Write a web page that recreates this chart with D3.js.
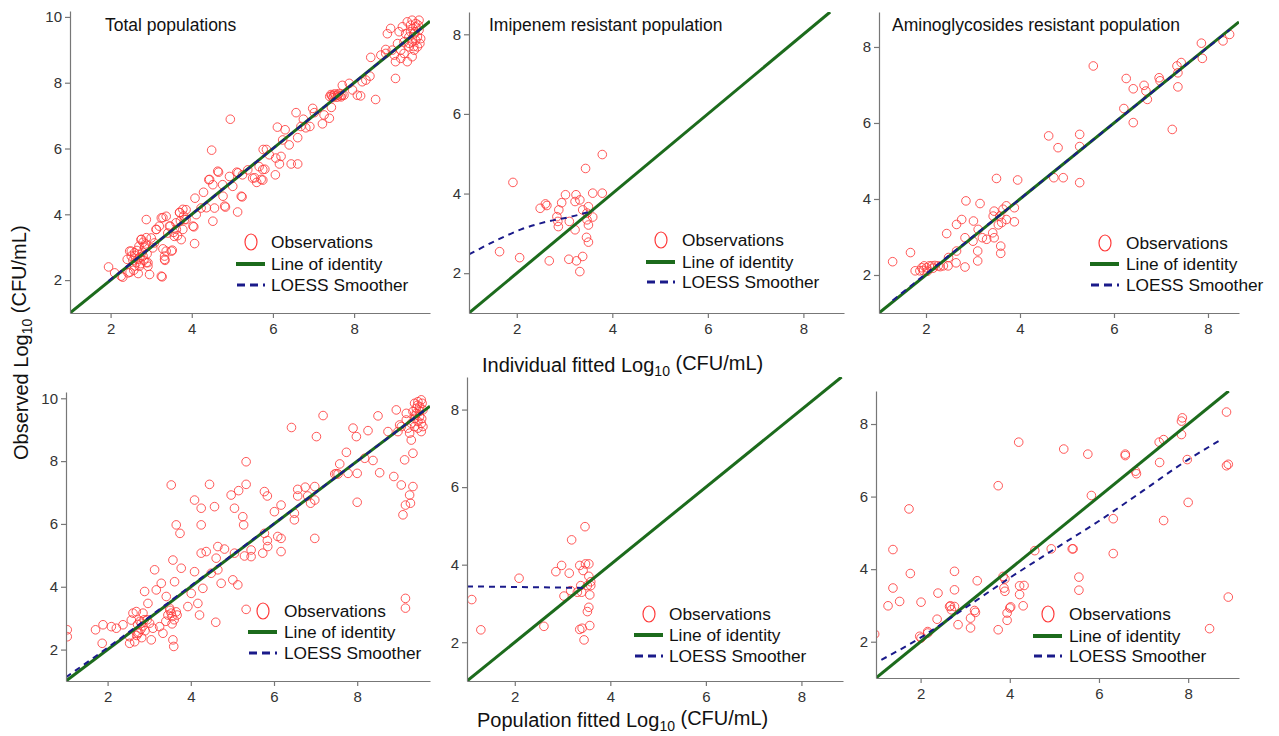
<!DOCTYPE html>
<html><head><meta charset="utf-8">
<script src="https://cdn.jsdelivr.net/npm/d3@7"></script>
<style>
html,body{margin:0;padding:0;background:#fff;}
svg{display:block;font-family:"Liberation Sans",Arial,sans-serif;}
</style></head>
<body>
<svg id="chart" width="1279" height="736"></svg>
<script>
// ---------------- DATA ----------------
const panelTitles = ["Total populations", "Imipenem resistant population", "Aminoglycosides resistant population", "", "", ""];
const legendLabels = ["Observations", "Line of identity", "LOESS Smoother"];
const xTickValues = [2, 4, 6, 8];
const yTicksTotal = [2, 4, 6, 8, 10];
const yTicksResistant = [2, 4, 6, 8];
const rowTitleTop = "Individual fitted Log";
const rowTitleBottom = "Population fitted Log";
const yTitle = "Observed Log";

// Panel 1: total populations, individual fitted (x) vs observed (y)
const p1Obs = [[1.95,2.40],[2.10,2.22],[2.30,2.09],[2.48,2.24],[2.51,2.73],[2.47,2.88],[2.41,2.63],[2.59,2.83],[2.63,2.53],[2.70,3.03],[2.71,2.42],[2.75,3.23],[2.80,2.73],[2.84,2.98],[2.88,3.84],[2.88,2.53],[2.92,2.42],[2.96,2.17],[3.00,3.28],[3.08,3.13],[3.12,3.54],[3.20,3.64],[3.25,3.89],[3.29,2.95],[3.33,2.73],[3.34,2.60],[3.27,2.10],[3.37,3.94],[3.41,3.43],[3.47,3.64],[3.52,2.91],[3.57,3.33],[3.61,3.74],[3.70,4.06],[3.74,3.23],[3.78,3.54],[3.82,3.84],[3.86,4.14],[4.05,3.62],[4.07,3.11],[4.11,3.99],[4.08,4.49],[4.23,4.19],[4.29,4.67],[4.49,5.95],[4.42,5.05],[4.52,3.79],[4.56,4.19],[4.52,4.90],[4.66,5.28],[4.76,4.90],[4.83,4.22],[4.93,5.15],[4.95,6.89],[5.01,4.85],[5.13,4.07],[5.11,5.28],[5.24,4.53],[5.25,5.20],[5.38,5.35],[5.50,5.10],[5.60,4.97],[5.66,5.45],[5.75,5.04],[5.76,5.97],[5.80,5.37],[5.91,5.81],[6.06,5.20],[6.07,5.71],[6.16,5.53],[6.20,5.76],[6.11,6.65],[6.24,6.26],[6.30,6.57],[6.40,6.11],[6.45,5.53],[6.61,5.53],[6.57,7.09],[6.61,6.33],[6.69,6.67],[6.75,6.89],[6.81,6.63],[6.91,6.67],[6.98,7.22],[7.02,7.09],[7.22,6.75],[7.26,7.02],[7.39,6.92],[7.44,7.25],
[7.40,7.58],[7.45,7.60],[7.50,7.62],[7.55,7.60],[7.60,7.63],[7.65,7.60],[7.70,7.62],[7.48,7.55],[7.58,7.56],[7.68,7.57],[7.52,7.66],[7.62,7.67],[7.75,7.62],[7.43,7.64],
[7.71,7.92],[7.88,7.98],[7.96,7.78],[8.08,7.62],[8.16,7.60],[8.20,8.03],[8.29,8.08],[8.39,8.20],[8.41,8.77],[8.53,7.49],[8.66,8.84],[8.78,9.01],[8.78,8.89],[8.82,9.49],[8.94,8.99],[9.02,8.13],[9.02,8.64],
[8.90,9.65],[9.11,9.55],[9.19,9.70],[9.31,9.85],[9.43,9.90],[9.52,9.80],[9.60,9.90],[9.48,9.49],[9.43,9.24],[9.35,9.09],[9.23,8.89],[9.15,8.74],[9.31,8.64],[9.52,9.29],[9.60,9.60],[9.56,9.09],[9.48,8.99],[9.35,9.39],[9.23,9.24],[9.07,9.19],[9.64,9.34],[9.52,9.70],[9.39,9.75],[9.27,9.49],[9.15,8.99],[8.99,8.84],[9.43,8.79],[9.56,9.39],[9.62,9.19],[9.39,9.55],[9.50,9.55],[9.45,9.65],[9.58,9.75],[9.35,9.20],[9.47,9.10],
[2.26,2.12],[2.43,2.22],[2.51,2.88],[2.59,2.43],[2.67,2.63],[2.76,3.24],[2.84,3.03],[2.88,3.29],[2.92,2.53],[3.04,2.98],[3.13,3.54],[3.25,2.12],[3.29,3.90],[3.33,2.63],[3.37,2.88],[3.45,3.64],[3.50,2.88],[3.62,3.54],[3.70,4.05],[3.78,4.15],[3.86,3.84],[4.03,3.64],[4.36,4.20],[4.44,5.06],[4.64,5.31],[4.77,4.55],[4.81,4.25],[5.14,5.26],[5.22,4.55],[5.55,5.11],[5.71,5.06],[5.84,5.97],[5.75,5.36],
[2.55,2.60],[2.60,2.75],[2.65,2.90],[2.72,2.70],[2.78,2.85],[2.82,2.60],[2.86,3.10],[2.90,2.80],[2.57,2.30],[2.68,2.20],[2.74,2.50],[2.80,3.15],[3.55,3.45],[3.65,3.35],[3.72,3.80],[3.80,3.95]];
const p1Loess = [[1.95,1.97],[4,4.0],[6,6.0],[8,8.0],[9.65,9.65]];

// Panel 2: imipenem resistant, individual fitted
const p2Obs = [[1.92,4.28],[1.64,2.54],[2.06,2.39],[2.49,3.63],[2.60,3.74],[2.63,3.70],[2.68,2.31],[2.88,3.59],[2.86,3.30],[2.87,3.17],[2.94,3.77],[3.02,3.97],[3.10,3.30],[3.09,2.35],[3.22,3.09],[3.22,3.80],[3.24,3.97],[3.25,2.31],[3.32,3.84],[3.32,2.04],[3.38,2.42],[3.38,3.59],[3.44,4.63],[3.46,2.90],[3.47,3.51],[3.50,3.67],[3.50,3.21],[3.50,2.78],[3.47,3.34],[3.59,4.01],[3.59,3.41],[3.79,4.98],[3.79,4.01],[2.84,3.42]];
const p2Loess = [[1.0,2.47],[1.6,2.84],[2.09,3.10],[2.65,3.30],[3.14,3.42],[3.60,3.57]];

// Panel 3: aminoglycosides resistant, individual fitted
const p3Obs = [[1.29,2.35],[1.67,2.59],[1.77,2.11],[1.87,2.11],[1.91,2.19],[1.96,2.24],[2.01,2.19],[2.07,2.24],[2.12,2.24],[2.19,2.25],[2.26,2.24],[2.37,2.24],[2.47,2.24],[2.44,3.09],[1.94,2.12],[2.48,2.46],[2.65,2.63],[2.65,3.33],[2.64,2.32],[2.76,3.46],[2.83,2.98],[2.83,2.21],[2.85,3.95],[3.01,3.42],[3.00,2.89],[3.11,3.20],[3.10,2.63],[3.10,2.37],[3.15,3.88],[3.20,2.98],[3.29,2.94],[3.42,3.11],[3.45,2.98],[3.45,3.68],[3.43,3.55],[3.50,4.54],[3.54,3.32],[3.57,3.55],[3.61,3.38],[3.59,2.76],[3.59,2.57],[3.64,3.73],[3.71,3.82],[3.71,3.46],[3.88,3.77],[3.88,3.40],[3.95,4.50],[4.61,5.66],[4.72,4.56],[4.81,5.35],[4.92,4.56],[5.27,5.70],[5.27,5.38],[5.27,4.43],[5.56,7.50],[6.21,6.38],[6.26,7.17],[6.41,6.90],[6.41,6.01],[6.64,6.99],[6.68,6.84],[6.71,6.62],[6.96,7.19],[6.98,7.11],[7.24,5.83],[7.34,7.50],[7.36,7.32],[7.36,6.95],[7.43,7.59],[7.86,8.10],[7.88,7.70],[8.32,8.16],[8.46,8.33],[2.03,2.10],[2.15,2.18],[2.30,2.22]];
const p3Loess = [[1.29,1.33],[2,2.03],[4,4.0],[6,6.0],[8.46,8.45]];

// Panel 4: total populations, population fitted
const p4Obs = [[1.03,2.63],[1.03,2.41],[1.71,2.63],[1.89,2.79],[1.87,2.20],[2.09,2.73],[2.21,2.68],[2.37,2.79],[2.53,2.20],[2.53,2.41],[2.57,2.94],[2.61,3.16],[2.69,3.21],[2.73,2.52],[2.81,2.84],[2.85,3.16],[2.89,3.85],[2.97,3.47],[3.01,2.84],[3.05,2.31],[3.09,2.68],[3.13,4.54],[3.17,3.90],[3.25,2.73],[3.29,4.11],[3.33,2.52],[3.41,3.69],[3.49,3.32],[3.53,7.24],[3.53,3.16],[3.55,2.82],[3.57,2.31],[3.57,4.85],[3.61,4.16],[3.59,2.10],[3.65,5.97],[3.67,3.10],[3.74,5.70],[3.77,4.59],[3.93,3.37],[4.01,3.79],[4.09,6.76],[4.09,4.48],[4.17,3.47],[4.21,3.10],[4.25,6.50],[4.25,5.97],[4.25,5.07],[4.29,3.95],[4.37,5.12],[4.45,7.26],[4.49,4.43],[4.57,6.55],[4.60,2.87],[4.61,4.91],[4.65,4.54],[4.65,5.28],[4.73,4.11],[4.81,5.20],[4.97,6.92],[5.01,4.22],[5.05,5.07],[5.13,4.06],[5.15,7.06],[5.05,6.50],[5.25,6.23],[5.27,5.97],[5.29,4.98],[5.33,7.26],[5.33,7.98],[5.33,3.28],[5.45,5.17],[5.45,4.96],[5.73,5.07],[5.77,7.03],[5.84,6.89],[5.84,5.47],[5.77,5.70],[5.85,5.28],[6.01,6.39],[6.09,5.60],[6.17,6.60],[6.17,5.12],[6.17,5.54],[6.49,6.34],[6.49,6.13],[6.42,9.07],[6.57,6.89],[6.57,7.10],[6.75,7.17],[6.81,6.89],[6.88,6.66],[6.98,7.19],[6.98,6.76],[7.02,8.78],[6.98,5.54],[7.18,9.45],[7.46,7.59],[7.54,7.59],[7.50,7.60],[7.58,7.91],[7.74,8.28],[7.78,7.61],[7.90,9.05],[7.98,8.78],[8.00,7.61],[8.00,6.69],[8.18,8.09],[8.26,8.97],[8.38,8.02],[8.50,9.44],[8.54,7.63],[8.74,8.94],[8.88,7.51],[8.94,9.63],[8.98,8.94],[9.06,7.24],[9.10,6.29],[9.14,8.04],[9.16,6.60],[9.16,3.63],[9.16,3.32],[9.18,9.31],[9.26,6.92],[9.28,6.66],[9.34,8.25],[9.34,7.19],[9.30,8.67],[9.26,8.89],
[9.38,9.84],[9.46,9.89],[9.54,9.95],[9.50,9.73],[9.42,9.52],[9.50,9.42],[9.54,9.20],[9.46,9.26],[9.38,9.10],[9.58,9.63],[9.42,9.68],[9.30,9.20],[9.22,9.05],[9.06,9.10],[9.02,9.15],[9.54,8.94],[9.56,9.84],[9.34,9.58],[9.46,9.05],[9.38,9.36],[9.18,9.52],[9.50,9.58],[9.55,9.35],[9.45,9.78],[9.40,9.45],[9.58,9.10],
[2.75,2.55],[2.80,2.65],[2.85,2.75],[2.78,2.90],[2.70,2.45],[2.82,2.38],[2.90,2.60],[2.65,2.25],[2.95,2.95],[2.72,2.80],[2.88,2.95],[3.45,3.10],[3.55,3.05],[3.50,3.25],[3.60,2.95],[3.65,3.20],[3.40,2.90]];
const p4Loess = [[1.0,1.12],[2,2.06],[4,4.03],[6,6.01],[8,8.0],[9.6,9.6]];

// Panel 5: imipenem resistant, population fitted
const p5Obs = [[1.10,3.10],[1.29,2.32],[2.09,3.65],[2.61,2.41],[2.86,3.82],[2.98,3.98],[3.03,3.19],[3.14,3.78],[3.17,3.33],[3.19,4.64],[3.36,3.98],[3.36,2.33],[3.38,3.46],[3.40,3.29],[3.41,2.36],[3.43,3.85],[3.45,2.06],[3.47,4.98],[3.48,4.02],[3.52,3.46],[3.52,2.79],[3.55,4.02],[3.55,3.70],[3.55,2.90],[3.57,2.43],[3.57,3.22],[3.59,3.46],[3.59,3.56],[3.31,3.29]];
const p5Loess = [[1.0,3.44],[2.33,3.42],[3.52,3.40]];

// Panel 6: aminoglycosides resistant, population fitted
const p6Obs = [[0.97,2.21],[1.27,2.99],[1.38,4.54],[1.38,3.48],[1.53,3.11],[1.74,5.66],[1.77,3.88],[1.98,2.15],[2.01,3.09],[2.01,2.10],[2.16,2.24],[2.16,2.28],[2.37,2.62],[2.39,3.34],[2.65,2.97],[2.69,2.88],[2.67,2.99],[2.76,3.94],[2.76,3.43],[2.76,2.97],[2.84,2.47],[3.12,2.65],[3.12,2.38],[3.21,2.86],[3.23,2.81],[3.27,3.68],[3.74,6.30],[3.74,2.33],[3.85,3.80],[3.87,3.48],[3.89,3.39],[3.89,3.73],[3.94,2.79],[3.94,2.59],[4.02,2.96],[4.00,2.93],[4.20,7.50],[4.22,3.54],[4.22,3.30],[4.30,2.99],[4.32,3.55],[4.56,4.51],[4.93,4.56],[5.21,7.31],[5.40,4.56],[5.42,4.56],[5.55,3.78],[5.55,3.42],[5.75,7.17],[5.83,6.03],[6.32,5.39],[6.32,4.43],[6.59,7.17],[6.59,7.13],[6.82,6.70],[6.84,6.63],[7.35,7.50],[7.36,6.94],[7.45,7.57],[7.45,5.34],[7.85,8.08],[7.87,8.17],[7.85,7.71],[7.98,7.02],[8.00,5.84],[8.48,2.36],[8.86,8.33],[8.86,6.85],[8.90,6.89],[8.90,3.23]];
const p6Loess = [[1.12,1.50],[2.01,2.12],[3.0,2.93],[4.00,3.76],[5.0,4.55],[5.99,5.32],[7.0,6.17],[8.00,7.02],[8.77,7.59]];

// ---------------- LAYOUT ----------------
const panels = [
  {obs:p1Obs, loess:p1Loess, title:panelTitles[0], l:70,  r:430,  t:11,  b:313, xmax:9.87, ymax:10.18, yt:yTicksTotal,     tx:105, leg:{cx:251, tx:271, y:[242,264,285]}},
  {obs:p2Obs, loess:p2Loess, title:panelTitles[1], l:469, r:844,  t:12,  b:313, xmax:8.85, ymax:8.56,  yt:yTicksResistant, tx:489, leg:{cx:661, tx:682, y:[240,262,282]}},
  {obs:p3Obs, loess:p3Loess, title:panelTitles[2], l:879, r:1239, t:12,  b:313, xmax:8.66, ymax:8.92,  yt:yTicksResistant, tx:892, leg:{cx:1105, tx:1126, y:[243,264,285]}},
  {obs:p4Obs, loess:p4Loess, title:panelTitles[3], l:66,  r:430,  t:392, b:681, xmax:9.75, ymax:10.2,  yt:yTicksTotal,     tx:0,   leg:{cx:263, tx:284, y:[611,632,653]}},
  {obs:p5Obs, loess:p5Loess, title:panelTitles[4], l:467, r:843,  t:377, b:681, xmax:8.87, ymax:8.84,  yt:yTicksResistant, tx:0,   leg:{cx:649, tx:669, y:[614,635,656]}},
  {obs:p6Obs, loess:p6Loess, title:panelTitles[5], l:876, r:1239, t:391, b:678, xmax:9.14, ymax:8.91,  yt:yTicksResistant, tx:0,   leg:{cx:1048, tx:1069, y:[614,636,656]}}
];

const RED = "#ff3b3b", GREEN = "#1c6b1c", BLUE = "#1a1a8a";
const svg = d3.select("#chart");
const defs = svg.append("defs");

panels.forEach((p, i) => {
  const x = d3.scaleLinear().domain([1, p.xmax]).range([p.l, p.r]);
  const y = d3.scaleLinear().domain([1, p.ymax]).range([p.b, p.t]);
  const g = svg.append("g");

  defs.append("clipPath").attr("id", "clip" + i)
    .append("rect").attr("x", p.l).attr("y", p.t).attr("width", p.r - p.l).attr("height", p.b - p.t);

  const plot = g.append("g").attr("clip-path", `url(#clip${i})`);

  // observations
  plot.selectAll("circle.obs").data(p.obs).join("circle")
    .attr("class", "obs")
    .attr("cx", d => x(d[0])).attr("cy", d => y(d[1])).attr("r", 4.3)
    .attr("fill", "none").attr("stroke", RED).attr("stroke-width", 1).attr("stroke-opacity", 0.85);

  // identity line
  const idEnd = Math.min(p.xmax, p.ymax);
  plot.append("path").datum([[1, 1], [idEnd, idEnd]])
    .attr("d", d3.line().x(d => x(d[0])).y(d => y(d[1])))
    .attr("fill", "none").attr("stroke", GREEN).attr("stroke-width", 3);

  // LOESS smoother
  plot.append("path").datum(p.loess)
    .attr("d", d3.line().curve(d3.curveMonotoneX).x(d => x(d[0])).y(d => y(d[1])))
    .attr("fill", "none").attr("stroke", BLUE).attr("stroke-width", 2)
    .attr("stroke-dasharray", "6,5");

  // axes
  const xAxis = g.append("g").attr("transform", `translate(0,${p.b})`)
    .call(d3.axisBottom(x).tickValues(xTickValues).tickSize(5).tickSizeOuter(0).tickFormat(d3.format("d")));
  const yAxis = g.append("g").attr("transform", `translate(${p.l},0)`)
    .call(d3.axisLeft(y).tickValues(p.yt).tickSize(5).tickSizeOuter(0).tickFormat(d3.format("d")));
  [xAxis, yAxis].forEach(a => {
    a.select(".domain").attr("stroke", "#777").attr("stroke-width", 1.2);
    a.selectAll(".tick line").attr("stroke", "#777").attr("stroke-width", 1.2);
    a.selectAll(".tick text").attr("fill", "#333").style("font-size", "15px")
      .style("font-family", "'Liberation Sans', Arial, sans-serif");
  });
  xAxis.selectAll(".tick text").attr("dy", "0.95em").attr("y", 7);
  yAxis.selectAll(".tick text").attr("x", -8);

  // panel title
  if (p.title) {
    g.append("text").attr("x", p.tx).attr("y", 31).text(p.title)
      .attr("fill", "#111").style("font-size", "17.5px");
  }

  // legend
  const L = p.leg;
  g.append("ellipse").attr("cx", L.cx).attr("cy", L.y[0]).attr("rx", 6).attr("ry", 8)
    .attr("fill", "none").attr("stroke", RED).attr("stroke-width", 1.2);
  g.append("line").attr("x1", L.cx - 15).attr("x2", L.cx + 14).attr("y1", L.y[1]).attr("y2", L.y[1])
    .attr("stroke", GREEN).attr("stroke-width", 4);
  g.append("line").attr("x1", L.cx - 14).attr("x2", L.cx + 14).attr("y1", L.y[2]).attr("y2", L.y[2])
    .attr("stroke", BLUE).attr("stroke-width", 3).attr("stroke-dasharray", "8,5");
  legendLabels.forEach((lab, k) => {
    g.append("text").attr("x", L.tx).attr("y", L.y[k]).attr("dy", "0.35em").text(lab)
      .attr("fill", "#111").style("font-size", "17.3px");
  });
});

// axis titles with subscript
function subTitle(sel, main) {
  sel.append("tspan").text(main);
  sel.append("tspan").text("10").attr("dy", "0.3em").style("font-size", "14px");
  sel.append("tspan").text(" (CFU/mL)").attr("dy", "-0.3em");
}
const t1 = svg.append("text").attr("x", 482).attr("y", 372).attr("fill", "#111").style("font-size", "20px");
subTitle(t1, rowTitleTop);
const t2 = svg.append("text").attr("x", 477).attr("y", 727).attr("fill", "#111").style("font-size", "20px");
subTitle(t2, rowTitleBottom);
const t3 = svg.append("text").attr("transform", "translate(28,460) rotate(-90)").attr("fill", "#111").style("font-size", "20px");
subTitle(t3, yTitle);
</script>
</body></html>
